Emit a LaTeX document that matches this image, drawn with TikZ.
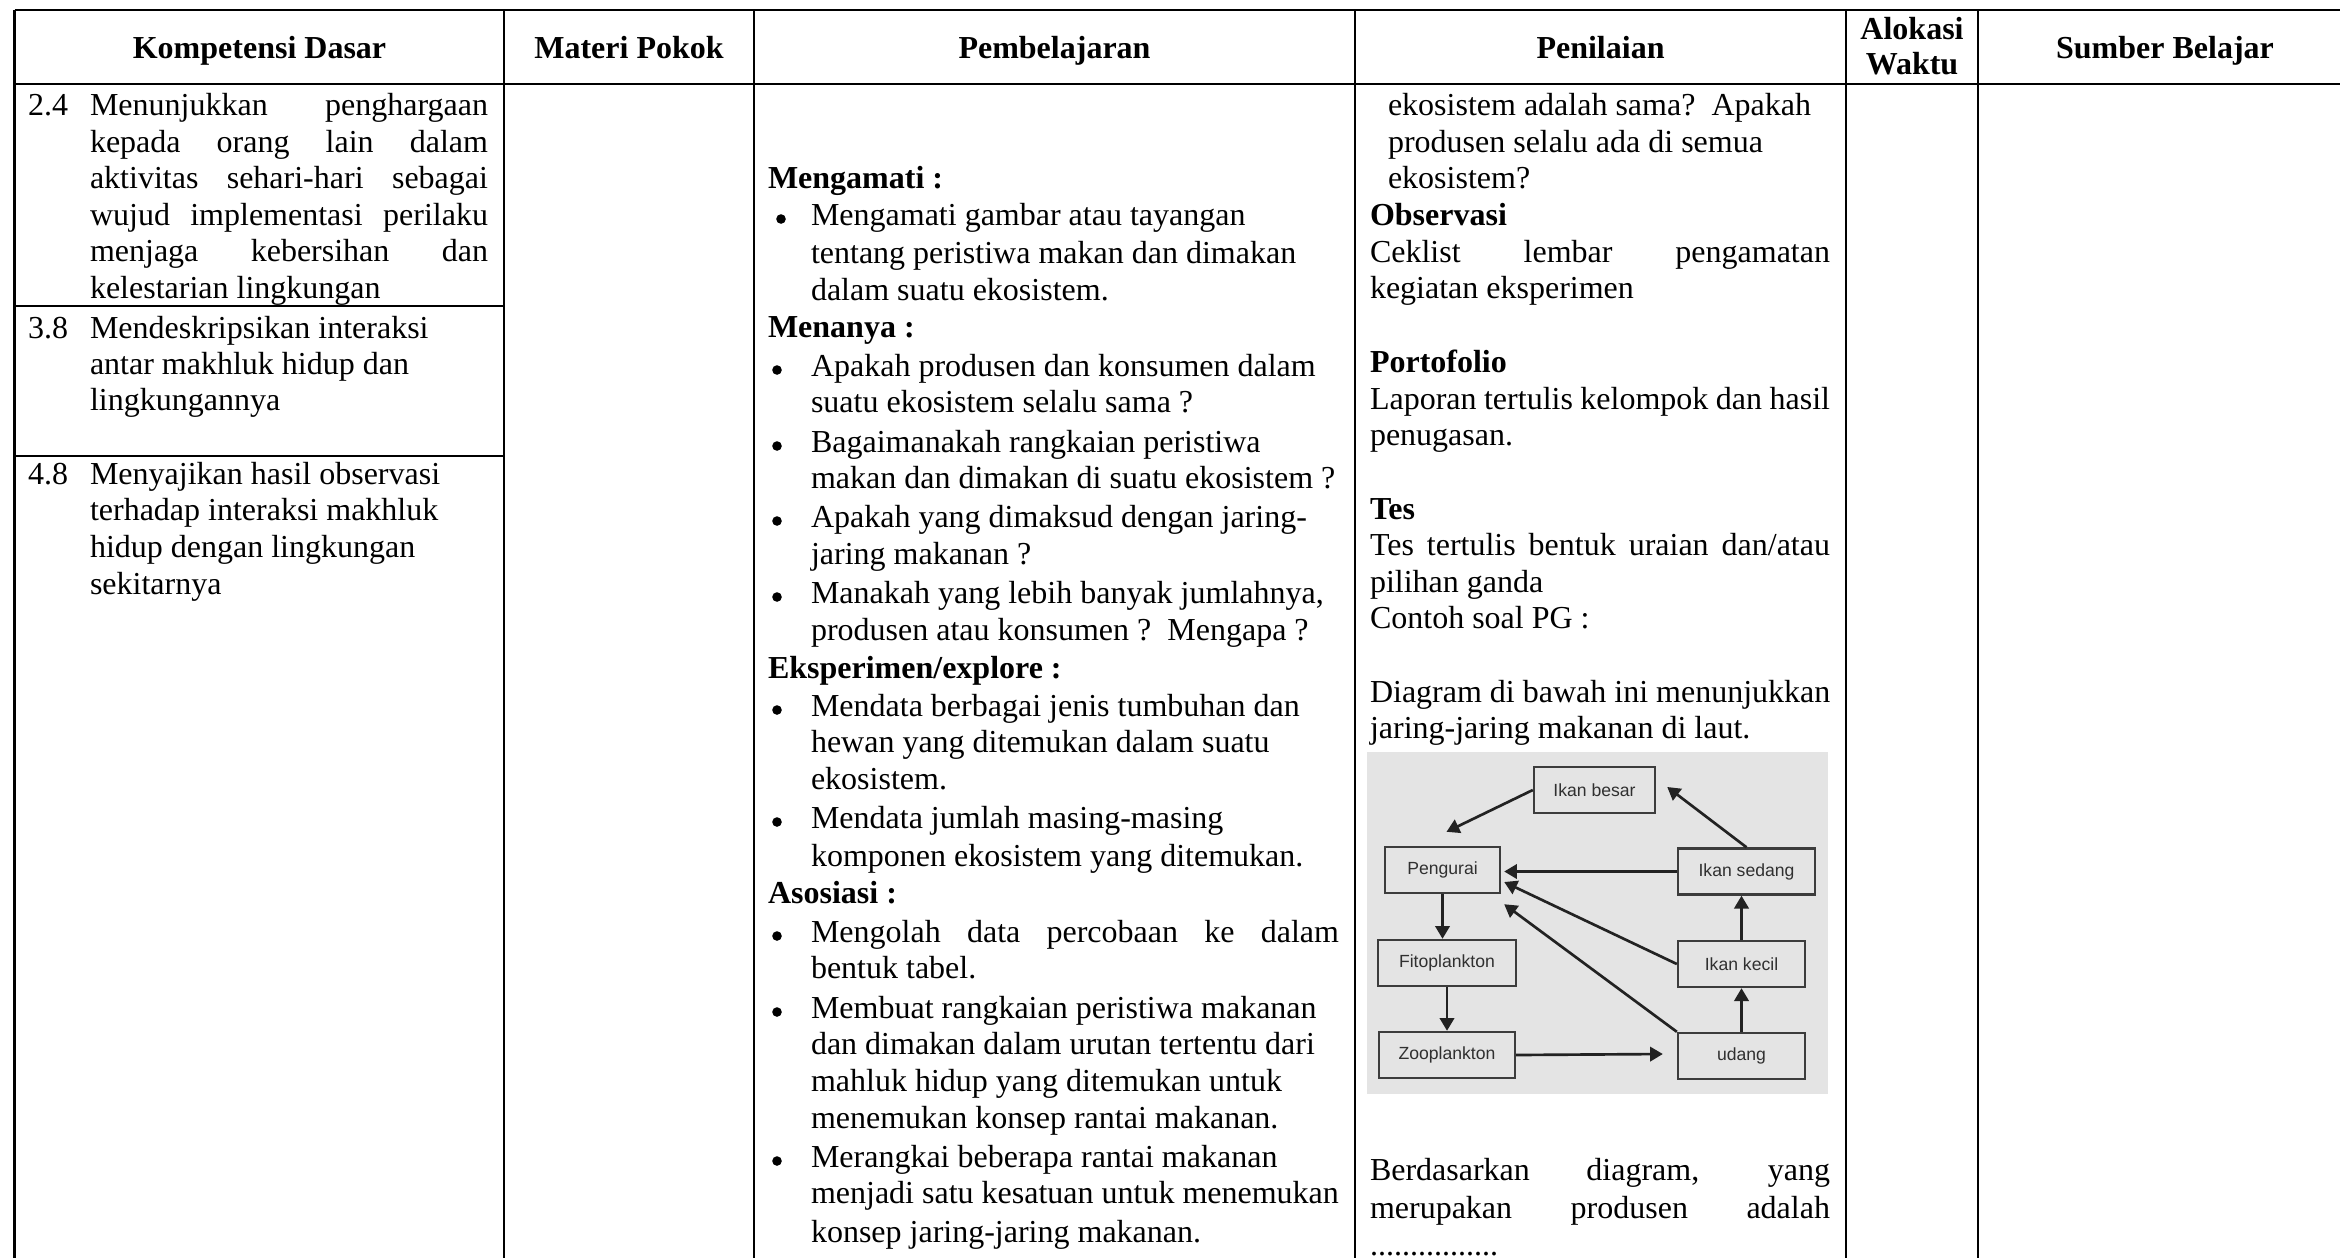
\documentclass[tikz,border=0pt]{standalone}
\usepackage{fontspec}
\setmainfont{Liberation Serif}
\newfontfamily\dsans{Liberation Sans}
\usetikzlibrary{arrows.meta,calc}
\definecolor{imgbg}{HTML}{E4E4E4}
\definecolor{boxgray}{HTML}{3C3C3C}
\definecolor{boxtext}{HTML}{303030}
\definecolor{arrgray}{HTML}{222222}
\newcommand\JL[2]{\makebox[#1][s]{#2}}
\tikzset{
  grid/.style={line width=0.8pt, draw=black},
  txt/.style={anchor=base west, inner sep=0pt, outer sep=0pt, font=\fontsize{12}{13.8}\selectfont},
  btxt/.style={txt, font=\fontsize{12}{13.8}\selectfont\bfseries},
  hdr/.style={anchor=base, inner sep=0pt, outer sep=0pt, font=\fontsize{12}{13.8}\selectfont\bfseries},
  bul/.style={circle, fill=black, inner sep=0pt, outer sep=0pt, minimum size=3.6pt},
  fwbox/.style={draw=boxgray, line width=0.9pt, inner sep=0pt, minimum height=17.25pt,
     font=\dsans\fontsize{6.6}{7.5}\selectfont, text=boxtext},
  farr/.style={draw=arrgray, line width=1pt, -{Triangle[length=4.8pt,width=5.4pt]}},
}
\begin{document}
\begin{tikzpicture}[x=0.375pt,y=-0.375pt]
\fill[white] (0,0) rectangle (2340,1258);
\useasboundingbox (0,0) rectangle (2340,1258);

% ---------- table grid ----------
\draw[grid] (14.5,10) -- (2340,10);
\draw[grid] (14.5,84) -- (2340,84);
\foreach \xx in {14.5,504,754,1355,1846,1978}{
  \draw[grid] (\xx,10) -- (\xx,1258);
}
\draw[grid] (14.5,306) -- (504,306);
\draw[grid] (14.5,456) -- (504,456);

% ---------- header ----------
\node[hdr] (hKD) at (259.5,58) {Kompetensi Dasar};
\node[hdr] (hMP) at (629,58) {Materi Pokok};
\node[hdr] (hPB) at (1054.5,58) {Pembelajaran};
\node[hdr] (hPN) at (1600.5,58) {Penilaian};
\node[hdr] (hAL1) at (1912,39) {Alokasi};
\node[hdr] (hAL2) at (1912,74) {Waktu};
\node[hdr] (hSB) at (2165,58) {Sumber Belajar};

% ---------- Kompetensi Dasar ----------
\node[txt] (n24) at (28,115) {2.4};
\node[txt] (k1) at (90,115) {\JL{149.25pt}{Menunjukkan penghargaan}};
\node[txt] (k2) at (90,152) {\JL{149.25pt}{kepada orang lain dalam}};
\node[txt] (k3) at (90,188.5) {\JL{149.25pt}{aktivitas sehari-hari sebagai}};
\node[txt] (k4) at (90,225) {\JL{149.25pt}{wujud implementasi perilaku}};
\node[txt] (k5) at (90,261.5) {\JL{149.25pt}{menjaga kebersihan dan}};
\node[txt] (k6) at (90,298) {kelestarian lingkungan};

\node[txt] (n38) at (28,338) {3.8};
\node[txt] (k7) at (90,338) {Mendeskripsikan interaksi};
\node[txt] (k8) at (90,374) {antar makhluk hidup dan};
\node[txt] (k9) at (90,410.5) {lingkungannya};

\node[txt] (n48) at (28,484) {4.8};
\node[txt] (k10) at (90,484) {Menyajikan hasil observasi};
\node[txt] (k11) at (90,520.5) {terhadap interaksi makhluk};
\node[txt] (k12) at (90,557) {hidup dengan lingkungan};
\node[txt] (k13) at (90,594) {sekitarnya};

% ---------- Pembelajaran ----------
\node[btxt] (p0) at (768,188) {Mengamati :};
\node[bul] (b1) at (781,219) {};
\node[txt] (p1) at (811,225) {Mengamati gambar atau tayangan};
\node[txt] (p2) at (811,263) {tentang peristiwa makan dan dimakan};
\node[txt] (p3) at (811,300) {dalam suatu ekosistem.};
\node[btxt] (p4) at (768,337) {Menanya :};
\node[bul] (b2) at (777,370) {};
\node[txt] (p5) at (811,376) {Apakah produsen dan konsumen dalam};
\node[txt] (p6) at (811,412) {suatu ekosistem selalu sama ?};
\node[bul] (b3) at (777,446) {};
\node[txt] (p7) at (811,452) {Bagaimanakah rangkaian peristiwa};
\node[txt] (p8) at (811,488) {makan dan dimakan di suatu ekosistem ?};
\node[bul] (b4) at (777,521) {};
\node[txt] (p9) at (811,527) {Apakah yang dimaksud dengan jaring-};
\node[txt] (p10) at (811,564) {jaring makanan ?};
\node[bul] (b5) at (777,597) {};
\node[txt] (p11) at (811,603) {Manakah yang lebih banyak jumlahnya,};
\node[txt] (p12) at (811,640) {produsen atau konsumen ?\ \ Mengapa ?};
\node[btxt] (p13) at (768,678) {Eksperimen/explore :};
\node[bul] (b6) at (777,710) {};
\node[txt] (p14) at (811,716) {Mendata berbagai jenis tumbuhan dan};
\node[txt] (p15) at (811,752) {hewan yang ditemukan dalam suatu};
\node[txt] (p16) at (811,789) {ekosistem.};
\node[bul] (b7) at (777,822) {};
\node[txt] (p17) at (811,828) {Mendata jumlah masing-masing};
\node[txt] (p18) at (811,866) {komponen ekosistem yang ditemukan.};
\node[btxt] (p19) at (768,903) {Asosiasi :};
\node[bul] (b8) at (777,936) {};
\node[txt] (p20) at (811,942) {\JL{198pt}{Mengolah data percobaan ke dalam}};
\node[txt] (p21) at (811,978) {bentuk tabel.};
\node[bul] (b9) at (777,1012) {};
\node[txt] (p22) at (811,1018) {Membuat rangkaian peristiwa makanan};
\node[txt] (p23) at (811,1054) {dan dimakan dalam urutan tertentu dari};
\node[txt] (p24) at (811,1091) {mahluk hidup yang ditemukan untuk};
\node[txt] (p25) at (811,1128) {menemukan konsep rantai makanan.};
\node[bul] (b10) at (777,1161) {};
\node[txt] (p26) at (811,1167) {Merangkai beberapa rantai makanan};
\node[txt] (p27) at (811,1203) {menjadi satu kesatuan untuk menemukan};
\node[txt] (p28) at (811,1242) {konsep jaring-jaring makanan.};

% ---------- Penilaian ----------
\node[txt] (q1) at (1388,115) {ekosistem adalah sama?\ \ Apakah};
\node[txt] (q2) at (1388,152) {produsen selalu ada di semua};
\node[txt] (q3) at (1388,188) {ekosistem?};
\node[btxt] (q4) at (1370,225) {Observasi};
\node[txt] (q5) at (1370,262) {\JL{172.5pt}{Ceklist lembar pengamatan}};
\node[txt] (q6) at (1370,298) {kegiatan eksperimen};
\node[btxt] (q7) at (1370,372) {Portofolio};
\node[txt] (q8) at (1370,409) {\JL{172.5pt}{Laporan tertulis kelompok dan hasil}};
\node[txt] (q9) at (1370,445) {penugasan.};
\node[btxt] (q10) at (1370,519) {Tes};
\node[txt] (q11) at (1370,555) {\JL{172.5pt}{Tes tertulis bentuk uraian dan/atau}};
\node[txt] (q12) at (1370,592) {pilihan ganda};
\node[txt] (q13) at (1370,628) {Contoh soal PG :};
\node[txt] (q14) at (1370,702) {Diagram di bawah ini menunjukkan};
\node[txt] (q15) at (1370,738) {jaring-jaring makanan di laut.};
\node[txt] (q16) at (1370,1180) {\JL{172.5pt}{Berdasarkan diagram, yang}};
\node[txt] (q17) at (1370,1218) {\JL{172.5pt}{merupakan produsen adalah}};
\node[txt] (q18) at (1370,1255) {................};

% ---------- food web picture ----------
\fill[imgbg] (1367,752) rectangle (1828,1094);
\node[fwbox, minimum width=45.4pt] (besar) at (1594.5,790) {Ikan besar};
\node[fwbox, minimum width=43.1pt] (pengurai) at (1442.5,870) {Pengurai};
\node[fwbox, minimum width=51.4pt] (sedang) at (1746.5,871.5) {Ikan sedang};
\node[fwbox, minimum width=51.75pt] (fito) at (1447,963) {Fitoplankton};
\node[fwbox, minimum width=47.6pt] (kecil) at (1741.5,964) {Ikan kecil};
\node[fwbox, minimum width=51pt] (zoo) at (1447,1055) {Zooplankton};
\node[fwbox, minimum width=47.6pt] (udang) at (1741.5,1056) {udang};

\coordinate (t1) at ($(pengurai.north)+(4,-14)$);
\coordinate (t2) at ($(besar.east)+(11,-3)$);
\coordinate (t4) at ($(pengurai.east)+(3,12)$);
\coordinate (t5) at ($(pengurai.south east)+(3,10)$);
\coordinate (t8) at ($(udang.west)+(-14,-2)$);
\draw[farr] (besar.west) -- (t1);
\draw[farr] (sedang.north) -- (t2);
\draw[farr] (sedang.west) -- ($(sedang.west -| pengurai.east)+(3,0)$);
\draw[farr] (kecil.west) -- (t4);
\draw[farr] (udang.north west) -- (t5);
\draw[farr] (pengurai.south) -- (pengurai.south |- fito.north);
\draw[farr] (fito.south) -- (fito.south |- zoo.north);
\draw[farr] (zoo.east) -- (t8);
\draw[farr] (udang.north) -- (kecil.south);
\draw[farr] (kecil.north) -- (kecil.north |- sedang.south);
\end{tikzpicture}
\end{document}
